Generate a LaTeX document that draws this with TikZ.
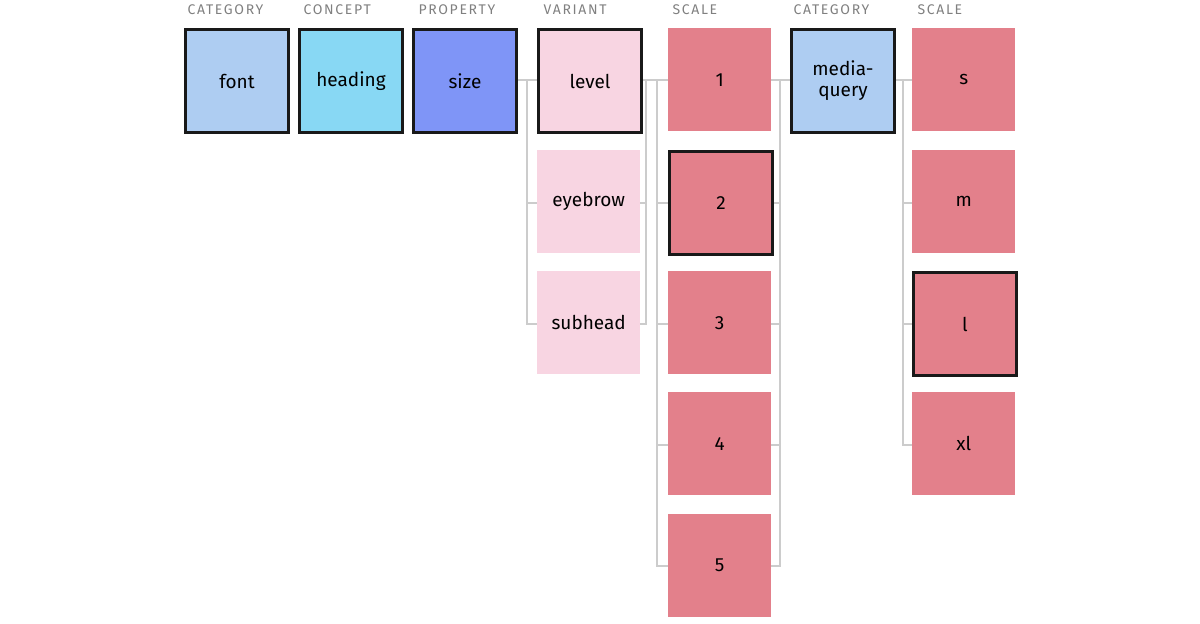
\documentclass[tikz,border=0pt]{standalone}
\usepackage{fontspec}
\setmainfont{Fira Sans}
\begin{document}
\begin{tikzpicture}[x=1pt,y=-1pt,
 box/.style={minimum width=103pt,minimum height=103pt,inner sep=0pt,font=\fontsize{19}{21}\selectfont,align=center,anchor=north west},
 sel/.style={draw=black!90,line width=3pt},
 plain/.style={},
 hdr/.style={font=\fontsize{14}{16}\selectfont\addfontfeature{LetterSpace=12},text=black!50,anchor=west},
 wire/.style={draw=black!20,line width=2.5pt}]
\useasboundingbox (0,0) rectangle (1200,624);
\definecolor{cat}{HTML}{AECDF2}\definecolor{con}{HTML}{88D8F4}\definecolor{pro}{HTML}{7F95F7}
\definecolor{var}{HTML}{F8D5E2}\definecolor{sca}{HTML}{E3808B}
% wires
\draw[wire] (516,80) -- (537,80);
\draw[wire] (527,80) -- (527,324) -- (537,324);
\draw[wire] (527,203) -- (537,203);
\draw[wire] (640,80) -- (668,80);
\draw[wire] (640,203) -- (646,203) (640,324) -- (646,324) -- (646,80);
\draw[wire] (657,80) -- (657,566) -- (668,566);
\foreach \y in {203,324,445} \draw[wire] (657,\y) -- (668,\y);
\draw[wire] (770,80) -- (790,80);
\draw[wire] (780,80) -- (780,566) -- (770,566);
\foreach \y in {203,324,445} \draw[wire] (770,\y) -- (780,\y);
\draw[wire] (893,80) -- (912,80);
\draw[wire] (903,80) -- (903,445) -- (912,445);
\foreach \y in {203,324} \draw[wire] (903,\y) -- (912,\y);
% headers
\node[hdr] (h1) at (184,10) {CATEGORY};
\node[hdr] (h2) at (300,10) {CONCEPT};
\node[hdr] (h3) at (415,10) {PROPERTY};
\node[hdr] (h4) at (540,10) {VARIANT};
\node[hdr] (h5) at (669,10) {SCALE};
\node[hdr] (h6) at (790,10) {CATEGORY};
\node[hdr] (h7) at (914,10) {SCALE};
% boxes
\node[box,fill=cat,sel] (font) at (184,28) {font};
\node[box,fill=con,sel] (heading) at (298,28) {heading};
\node[box,fill=pro,sel] (size) at (412,28) {size};
\node[box,fill=var,sel] (level) at (537,28) {level};
\node[box,fill=var] (eyebrow) at (537,150) {eyebrow};
\node[box,fill=var] (subhead) at (537,271) {subhead};
\node[box,fill=sca] (s1) at (668,28) {1};
\node[box,fill=sca,sel] (s2) at (668,150) {2};
\node[box,fill=sca] (s3) at (668,271) {3};
\node[box,fill=sca] (s4) at (668,392) {4};
\node[box,fill=sca] (s5) at (668,514) {5};
\node[box,fill=cat,sel] (mq) at (790,28) {media-\\query};
\node[box,fill=sca] (ss) at (912,28) {s};
\node[box,fill=sca] (sm) at (912,150) {m};
\node[box,fill=sca,sel] (sl) at (912,271) {l};
\node[box,fill=sca] (sxl) at (912,392) {xl};
\end{tikzpicture}
\end{document}
